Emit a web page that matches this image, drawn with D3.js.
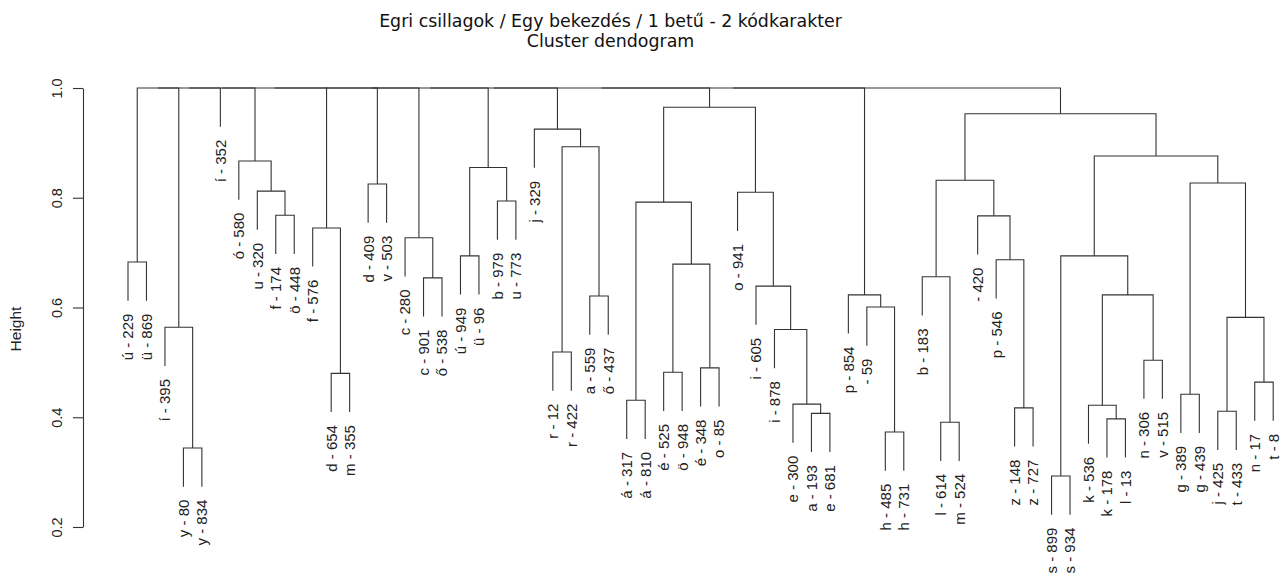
<!DOCTYPE html>
<html><head><meta charset="utf-8">
<script src="https://cdn.jsdelivr.net/npm/d3@7"></script>
<style>body{margin:0;background:#fff} svg{display:block}</style>
</head><body><svg id="c" width="1284" height="578"></svg>
<script>
// Leaf labels, numbered 1..63 (R hclust style: negative refs in merges)
const leafLabels = ["ú - 229","ü - 869","í - 395","y - 80","y - 834","í - 352","ó - 580","u - 320","f - 174","ö - 448",
  "f - 576","d - 654","m - 355","d - 409","v - 503","c - 280","c - 901","ő - 538","ú - 949","ü - 96",
  "b - 979","u - 773","j - 329","r - 12","r - 422","a - 559","ő - 437","á - 317","á - 810","é - 525",
  "ö - 948","é - 348","o - 85","o - 941","i - 605","i - 878","e - 300","a - 193","e - 681","p - 854",
  " - 59","h - 485","h - 731","b - 183","l - 614","m - 524"," - 420","p - 546","z - 148","z - 727",
  "s - 899","s - 934","k - 536","k - 178","l - 13","n - 306","v - 515","g - 389","g - 439","j - 425",
  "t - 433","n - 17","t - 8"];

// Merge table: left child, right child (negative = leaf, positive = earlier merge), height
const mergeLeft  = [-4,-3,-1,-9,-8,-7,-12,-11,-14,-17,-16,-19,-21,12,-24,-26,15,-23,-28,-30,
  -32,20,19,-38,-37,-36,-35,-34,23,-42,-41,-40,-45,-44,-49,-48,-47,34,-51,-54,
  -53,-56,41,39,-58,-60,-62,46,45,44,38,3,52,53,54,55,56,57,58,59,60,61];
const mergeRight = [-5,1,-2,-10,4,5,-13,7,-15,-18,10,-20,-22,13,-25,-27,16,17,-29,-31,
  -33,21,22,-39,24,25,26,27,28,-43,30,31,-46,33,-50,35,36,37,-52,-55,
  40,-57,42,43,-59,-61,-63,47,48,49,50,2,-6,6,8,9,11,14,18,29,32,51];
const mergeHeight = [0.344,0.564,0.683,0.768,0.812,0.867,0.480,0.745,0.825,0.654,0.727,0.694,0.794,0.855,0.519,0.621,0.893,0.925,0.431,0.482,
  0.490,0.679,0.792,0.407,0.424,0.560,0.639,0.810,0.965,0.373,0.601,0.623,0.391,0.656,0.417,0.687,0.767,0.832,0.293,0.397,
  0.422,0.504,0.623,0.694,0.442,0.411,0.464,0.582,0.827,0.876,0.953,1.0,1.0,1.0,1.0,1.0,1.0,1.0,1.0,1.0,1.0,1.0];

const yTicks = [0.2, 0.4, 0.6, 0.8, 1.0];
const titleLines = ["Egri csillagok / Egy bekezdés / 1 betű - 2 kódkarakter", "Cluster dendogram"];
const yLabel = "Height";
const hang = 0.0705;

function build(ref) {
  if (ref < 0) return { name: leafLabels[-ref - 1], h: null };
  return { h: mergeHeight[ref - 1], children: [build(mergeLeft[ref - 1]), build(mergeRight[ref - 1])] };
}
const root = d3.hierarchy(build(mergeLeft.length));

const svg = d3.select("#c");
const nLeaves = leafLabels.length;
const x = d3.scaleLinear().domain([1, nLeaves]).range([128, 1273.2]);
const y = d3.scaleLinear().domain([0.2, 1.0]).range([527, 88]);

root.leaves().forEach((l, i) => { l.px = x(i + 1); });
root.eachAfter(d => { if (d.children) d.px = d3.mean(d.children, c => c.px); });

const lineColor = "#333";
const g = svg.append("g");
root.each(d => {
  if (!d.children) return;
  const [a, b] = d.children;
  const bottom = c => c.children ? y(c.data.h) : y(d.data.h - hang);
  const p = d3.path();
  p.moveTo(a.px, bottom(a));
  p.lineTo(a.px, y(d.data.h));
  p.lineTo(b.px, y(d.data.h));
  p.lineTo(b.px, bottom(b));
  g.append("path").attr("d", p.toString()).attr("fill", "none")
    .attr("stroke", lineColor).attr("stroke-width", 1.1);
});

// leaf labels
root.leaves().forEach(l => {
  const yb = y(l.parent.data.h - hang) + 13;
  svg.append("text")
    .attr("transform", `translate(${l.px},${yb}) rotate(-90)`)
    .attr("text-anchor", "end").attr("dy", "0.36em")
    .style("white-space", "pre")
    .attr("font-family", "Liberation Sans, Arial, sans-serif").attr("font-size", 15)
    .attr("fill", "#222").text(l.data.name);
});

// axis
const axis = d3.axisLeft(y).tickValues(yTicks).tickSize(10).tickSizeOuter(0).tickFormat(d3.format(".1f"));
const ag = svg.append("g").attr("transform", "translate(83,0)").call(axis);
ag.select(".domain").attr("stroke", lineColor).attr("stroke-width", 1.1);
ag.selectAll(".tick line").attr("stroke", lineColor).attr("stroke-width", 1.1);
ag.selectAll(".tick text").attr("transform", "rotate(-90)").attr("x", 0).attr("y", -21).attr("dy", 0)
  .attr("text-anchor", "middle").attr("font-family", "Liberation Sans, Arial, sans-serif")
  .attr("font-size", 14.5).attr("fill", "#222");

svg.append("text").attr("transform", "translate(21,329) rotate(-90)").attr("text-anchor", "middle")
  .attr("font-family", "Liberation Sans, Arial, sans-serif").attr("font-size", 15.5).attr("fill", "#222").text(yLabel);

// title
titleLines.forEach((t, i) => {
  svg.append("text").attr("x", 610.5).attr("y", 27 + i * 20).attr("text-anchor", "middle")
    .attr("font-family", "DejaVu Sans, sans-serif").attr("font-size", 17.4).attr("fill", "#111").text(t);
});
</script></body></html>
